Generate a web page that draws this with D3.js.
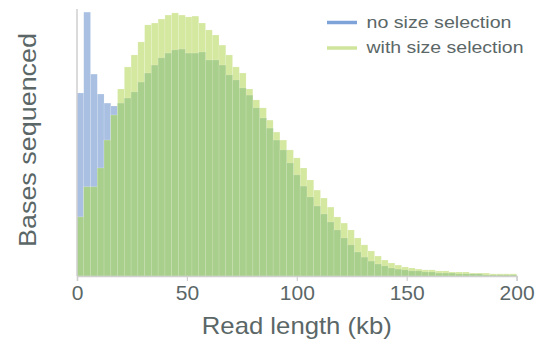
<!DOCTYPE html>
<html>
<head>
<meta charset="utf-8">
<script src="https://cdn.jsdelivr.net/npm/d3@7"></script>
<style>
  html, body { margin: 0; padding: 0; background: #ffffff; }
  svg { display: block; }
</style>
</head>
<body>
<svg id="chart" width="536" height="347"></svg>
<script>
// ---- data ----
const seriesNames = ["no size selection", "with size selection"];
const xDomain = [0, 200];           // read length (kb)
const binCount = 65;                // histogram bins over the domain
const xTicks = [0, 50, 100, 150, 200];

// relative bases sequenced per bin (axis max = 100)
const noSizeSelection = [
  68.8, 99.2, 75.9, 68.4, 65.0, 63.9, 65.0, 66.9, 69.2, 72.9,
  76.3, 79.3, 82.0, 83.8, 85.0, 85.3, 83.8, 83.8, 84.2, 81.2,
  81.2, 79.3, 75.6, 73.7, 70.7, 68.0, 63.2, 59.4, 55.6, 51.1,
  47.4, 42.5, 38.0, 33.8, 29.7, 26.3, 23.3, 20.3, 17.3, 14.3,
  11.7, 9.0, 7.1, 5.6, 4.5, 3.8, 3.0, 2.6, 2.3, 1.9,
  1.9, 1.5, 1.5, 1.1, 1.1, 1.1, 0.8, 0.8, 0.8, 0.8,
  0.4, 0.4, 0.4, 0.4, 0.4
];
const withSizeSelection = [
  22.2, 33.5, 33.5, 40.6, 51.1, 60.5, 70.3, 78.6, 83.1, 88.0,
  94.4, 95.1, 96.6, 98.1, 98.9, 98.1, 97.4, 97.7, 95.1, 92.5,
  90.6, 86.8, 83.1, 78.6, 76.3, 70.3, 66.2, 63.2, 58.6, 54.1,
  51.1, 47.4, 44.4, 40.6, 36.1, 32.3, 29.3, 25.9, 22.2, 19.9,
  17.3, 14.3, 11.7, 9.4, 7.5, 6.0, 4.9, 4.1, 3.4, 3.0,
  2.6, 2.3, 2.3, 1.9, 1.9, 1.5, 1.5, 1.5, 1.1, 1.1,
  1.1, 0.8, 0.8, 0.8, 0.8
];

// ---- layout ----
const W = 536, H = 347;
const plot = { left: 77, right: 516.6, top: 9, bottom: 276 };
const colors = {
  blue: "#a9c0e3",
  light: "#d5e8a0",
  overlap: "#a9cf8c",
  legendBlue: "#7ea3d9",
  legendGreen: "#d0e59c",
  text: "#5b6767",
  axis: "#cfcfcf"
};
const font = "'Liberation Sans', Arial, sans-serif";

const svg = d3.select("#chart");
svg.append("rect").attr("width", W).attr("height", H).attr("fill", "#fff");

const x = d3.scaleLinear().domain(xDomain).range([plot.left, plot.right]);
const y = d3.scaleLinear().domain([0, 100]).range([plot.bottom, 10]);

const binW = (xDomain[1] - xDomain[0]) / binCount;
const bins = noSizeSelection.map((v, i) => ({
  x0: xDomain[0] + i * binW,
  x1: xDomain[0] + (i + 1) * binW,
  a: v,
  b: withSizeSelection[i]
}));

const g = svg.append("g");

function drawLayer(cls, valueFn, fill) {
  g.selectAll("rect." + cls)
    .data(bins)
    .join("rect")
    .attr("class", cls)
    .attr("x", d => x(d.x0))
    .attr("width", d => x(d.x1) - x(d.x0))
    .attr("y", d => y(valueFn(d)))
    .attr("height", d => y(0) - y(valueFn(d)))
    .attr("fill", fill)
    .attr("stroke", "rgba(255,255,255,0.22)")
    .attr("stroke-width", 0.6);
}
drawLayer("blue", d => d.a, colors.blue);
drawLayer("green", d => d.b, colors.light);
drawLayer("both", d => Math.min(d.a, d.b), colors.overlap);

// y axis line
svg.append("line")
  .attr("x1", plot.left).attr("x2", plot.left)
  .attr("y1", plot.top).attr("y2", plot.bottom)
  .attr("stroke", colors.axis).attr("stroke-width", 1.5);

// x axis
const xAxis = d3.axisBottom(x).tickValues(xTicks).tickSize(5).tickPadding(4)
  .tickFormat(d3.format("d"));
const ax = svg.append("g")
  .attr("transform", `translate(0,${plot.bottom})`)
  .call(xAxis);
ax.select(".domain").attr("stroke", colors.axis).attr("stroke-width", 1.5);
ax.selectAll(".tick line").attr("stroke", colors.axis).attr("stroke-width", 1.2);
ax.selectAll(".tick text")
  .attr("fill", colors.text)
  .style("font-family", font)
  .style("font-size", "21px");

// axis titles
svg.append("text")
  .attr("x", (plot.left + plot.right) / 2)
  .attr("y", 334)
  .attr("text-anchor", "middle")
  .attr("fill", colors.text)
  .attr("textLength", 190)
  .attr("lengthAdjust", "spacingAndGlyphs")
  .style("font-family", font)
  .style("font-size", "24px")
  .text("Read length (kb)");

svg.append("text")
  .attr("transform", `translate(36,140) rotate(-90)`)
  .attr("text-anchor", "middle")
  .attr("fill", colors.text)
  .attr("textLength", 214)
  .attr("lengthAdjust", "spacingAndGlyphs")
  .style("font-family", font)
  .style("font-size", "23px")
  .text("Bases sequenced");

// legend
const legend = svg.append("g").attr("transform", "translate(327,22.5)");
const legendColors = [colors.legendBlue, colors.legendGreen];
const legendWidths = [145, 157];
seriesNames.forEach((name, i) => {
  const row = legend.append("g").attr("transform", `translate(0,${i * 25.5})`);
  row.append("line").attr("x1", 0).attr("x2", 30).attr("y1", 0).attr("y2", 0)
    .attr("stroke", legendColors[i]).attr("stroke-width", 3.5);
  row.append("text").attr("x", 39.5).attr("y", 5)
    .attr("fill", colors.text)
    .attr("textLength", legendWidths[i])
    .attr("lengthAdjust", "spacingAndGlyphs")
    .style("font-family", font)
    .style("font-size", "17px")
    .text(name);
});
</script>
</body>
</html>
